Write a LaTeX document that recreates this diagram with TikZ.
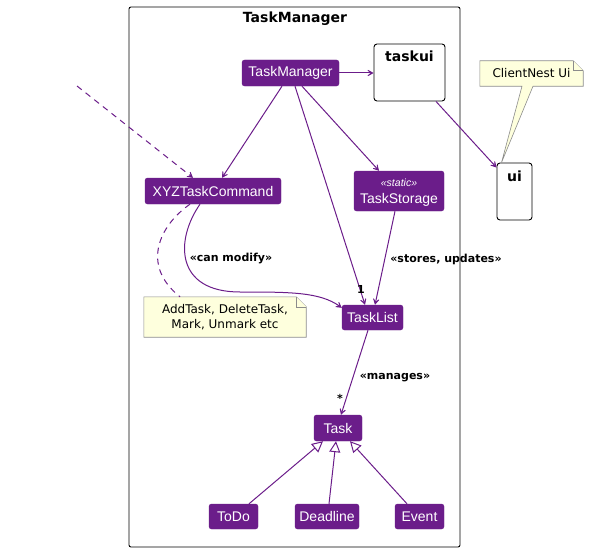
\documentclass[tikz,border=0pt]{standalone}
\usepackage{fontspec}
\setmainfont{Liberation Sans}
\newfontfamily\lblfont{DejaVu Sans}
\usetikzlibrary{arrows.meta}
\definecolor{pcol}{RGB}{107,29,138}
\definecolor{notefill}{RGB}{254,255,221}
\definecolor{notedraw}{RGB}{140,140,140}
\tikzset{
  cls/.style={draw=pcol, fill=pcol, rounded corners=2.5pt, text=white, font=\fontsize{14}{16}\selectfont, inner sep=0pt, minimum height=26pt},
  pkg/.style={draw=black, line width=0.9pt, rounded corners=3pt, fill=white},
  pkgtitle/.style={font=\lblfont\bfseries\fontsize{14}{16}\selectfont, inner sep=0pt},
  notetext/.style={font=\lblfont\fontsize{12}{15}\selectfont, align=center, inner sep=0pt},
  lbl/.style={font=\lblfont\bfseries\fontsize{11}{13}\selectfont, inner sep=0pt, text=black},
  arr/.style={draw=pcol, line width=1pt, -{Stealth[length=9pt,width=10pt,inset=6pt]}},
  darr/.style={arr, dash pattern=on 6pt off 5pt},
  dline/.style={draw=pcol, line width=1pt, dash pattern=on 6pt off 5pt},
  inh/.style={draw=pcol, line width=1pt, -{Triangle[open,length=11pt,width=11pt,fill=white]}},
}
\begin{document}
\begin{tikzpicture}[x=1pt,y=-1pt]
\useasboundingbox (0,0) rectangle (589,551);
% package frame
\draw[line width=0.9pt, rounded corners=2pt] (129,7) rectangle (460,547);
\node[pkgtitle] (title) at (295,19) {TaskManager};

% classes
\node[cls, minimum width=97pt] (tm) at (290.5,73) {TaskManager};
\node[cls, minimum width=136pt] (xyz) at (213,191) {XYZTaskCommand};
\node[cls, minimum width=90pt, minimum height=40pt, align=center] (ts) at (399,191) {};
\node[font=\fontsize{10.5}{12}\selectfont\itshape, text=white, inner sep=0pt] (tsst) at (399,182.5) {«static»};
\node[font=\fontsize{14}{16}\selectfont, text=white, inner sep=0pt] (tsname) at (399,200) {TaskStorage};
\node[cls, minimum width=61pt, minimum height=25pt] (tl) at (372.5,317.5) {TaskList};
\node[cls, minimum width=48pt] (task) at (338,428) {Task};
\node[cls, minimum width=49pt, minimum height=25pt] (todo) at (233.5,516.5) {ToDo};
\node[cls, minimum width=64pt, minimum height=25pt] (dl) at (327,516.5) {Deadline};
\node[cls, minimum width=49pt, minimum height=25pt] (ev) at (419.5,516.5) {Event};

% packages taskui and ui
\node[pkg, minimum width=71pt, minimum height=57pt, inner sep=0pt] (taskui) at (409.5,72.5) {};
\node[pkgtitle] (taskuit) at (409.5,56) {taskui};
\node[pkg, minimum width=35pt, minimum height=57pt, inner sep=0pt] (ui) at (514.5,191.5) {};
\node[pkgtitle] (uit) at (514.5,176) {ui};

% notes
\node[minimum width=103pt, minimum height=25pt, inner sep=0pt] (n1) at (531.5,73.5) {};
\fill[notefill, draw=notedraw, line width=0.6pt]
  (n1.north west) -- ([xshift=-10pt]n1.north east) -- ([yshift=-10pt]n1.north east)
  -- (n1.south east) -- ([xshift=1.5pt]n1.south) -- ([xshift=-13pt]ui.north) -- ([xshift=-9.5pt]n1.south) -- (n1.south west) -- cycle;
\draw[notedraw, line width=0.6pt, fill=notefill] ([xshift=-10pt]n1.north east) -- ([xshift=-10pt,yshift=-10pt]n1.north east) -- ([yshift=-10pt]n1.north east);
\node[notetext] (n1t) at (n1.center) {ClientNest Ui};

\node[minimum width=162pt, minimum height=40pt, inner sep=0pt] (n2) at (225,317) {};
\fill[notefill, draw=notedraw, line width=0.6pt]
  (n2.north west) -- ([xshift=-10pt]n2.north east) -- ([yshift=-10pt]n2.north east)
  -- (n2.south east) -- (n2.south west) -- cycle;
\draw[notedraw, line width=0.6pt, fill=notefill] ([xshift=-10pt]n2.north east) -- ([xshift=-10pt,yshift=-10pt]n2.north east) -- ([yshift=-10pt]n2.north east);
\node[notetext] (n2t) at (n2.center) {AddTask, DeleteTask,\\Mark, Unmark etc};

% connectors
\draw[arr] (tm.east) -- (taskui.west |- tm.east);
\draw[arr] ([xshift=-8.5pt]tm.south) -- ([xshift=9pt]xyz.north);
\draw[arr] ([xshift=11.5pt]tm.south) -- ([xshift=-20pt]ts.north);
\draw[arr] ([xshift=4.5pt]tm.south) -- ([xshift=-7.5pt]tl.north);
\node[lbl] (one) at (361,289) {1};
\draw[arr] ([xshift=-4pt]ts.south) -- ([xshift=2.5pt]tl.north);
\node[lbl] (lstore) at (446,259) {«stores, updates»};
\draw[arr] ([xshift=26.5pt]taskui.south) -- ([yshift=-5pt]ui.north west);
\coordinate (ext) at (77,86);
\draw[darr] (ext) -- ([xshift=-20pt]xyz.north);
\draw[dline] ([xshift=-23pt]xyz.south) .. controls (160,225) and (140,265) .. ([xshift=-45pt]n2.north);
\draw[arr] ([xshift=-13pt]xyz.south) .. controls (175,240) and (175,292) .. (240,292)
  .. controls (290,292) and (320,292) .. ([yshift=-3pt]tl.north west);
\node[lbl] (lmod) at (231,259) {«can modify»};
\draw[arr] ([xshift=-4.5pt]tl.south) -- ([xshift=3pt]task.north);
\node[lbl] (star) at (340,398) {*};
\node[lbl] (lman) at (395,378) {«manages»};
\draw[inh] ([xshift=15.5pt]todo.north) -- ([xshift=-15pt]task.south);
\draw[inh] ([xshift=2pt]dl.north) -- ([xshift=-2pt]task.south);
\draw[inh] ([xshift=-12.5pt]ev.north) -- ([xshift=12pt]task.south);
\end{tikzpicture}
\end{document}
